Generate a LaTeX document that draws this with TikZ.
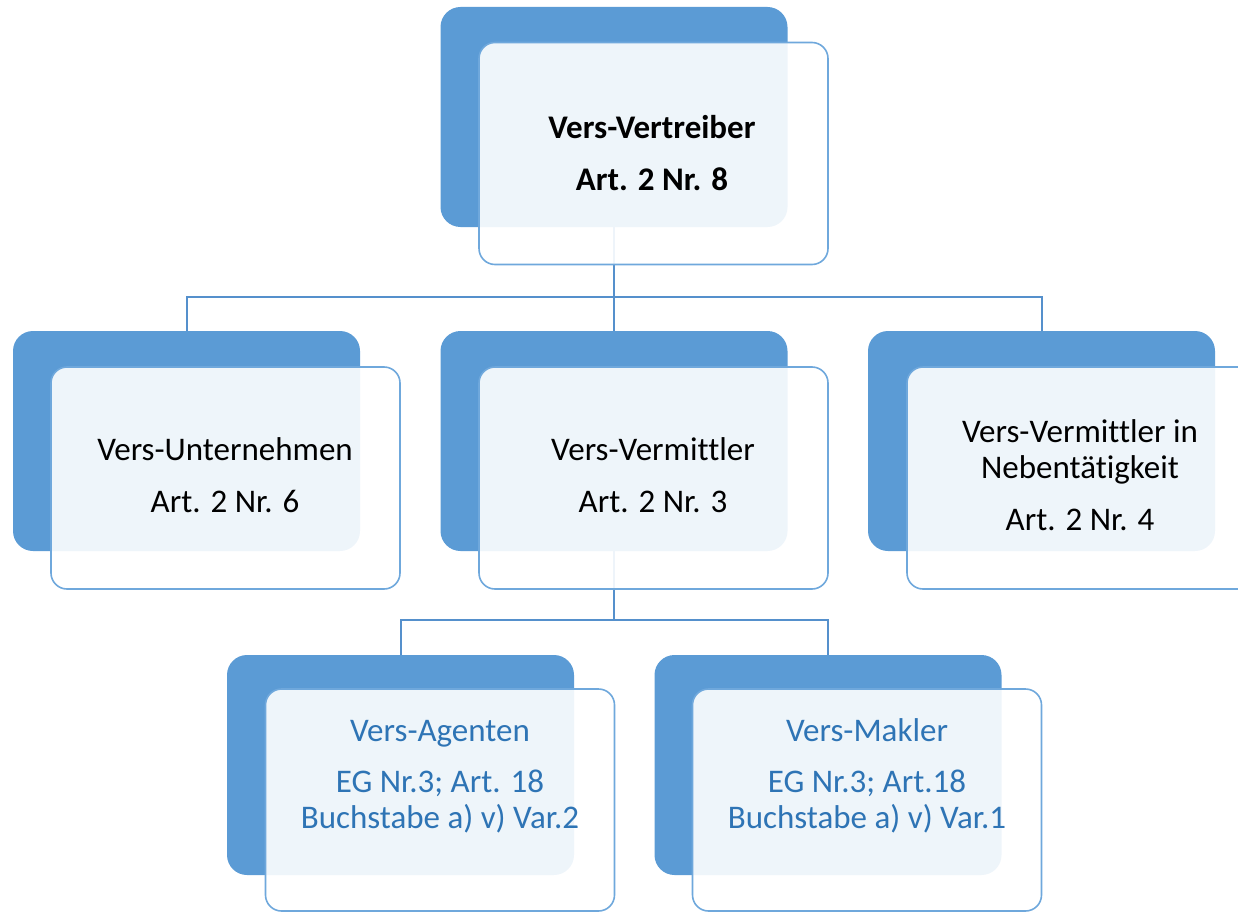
\documentclass[tikz,border=0pt]{standalone}
\usepackage{fontspec}
\setmainfont{Carlito}[Ligatures={NoCommon}]
\definecolor{boxblue}{HTML}{5B9BD5}
\definecolor{edgeblue}{HTML}{6FA8DC}
\definecolor{lineblue}{HTML}{5590CC}
\definecolor{txtblue}{HTML}{2E74B5}
\begin{document}
\begin{tikzpicture}[x=1pt,y=-1pt,
  backbox/.style={rectangle,rounded corners=20pt,fill=boxblue,draw=none,minimum width=347pt,minimum height=220pt,inner sep=0pt},
  frontbox/.style={rectangle,rounded corners=16pt,fill=white,fill opacity=0.9,draw=edgeblue,line width=1.6pt,minimum width=349pt,minimum height=222pt,inner sep=0pt},
  conn/.style={draw=lineblue,line width=2pt},
  lbl/.style={align=center,inner sep=0pt,anchor=base,font=\fontsize{33}{36}\selectfont},
  lblblue/.style={lbl,text=txtblue}]
\useasboundingbox (0,0) rectangle (1238,912);
% back boxes
\node[backbox] (b1) at (614,117) {};
\node[backbox] (b2) at (186.5,441) {};
\node[backbox] (b3) at (614,441) {};
\node[backbox] (b4) at (1041.5,441) {};
\node[backbox] (b5) at (400.5,765) {};
\node[backbox] (b6) at (828,765) {};
% connectors
\coordinate (j1) at (614,297);
\coordinate (j2) at (614,620);
\draw[conn] (b1.south) -- (j1);
\draw[conn] (j1) -| (b2.north);
\draw[conn] (j1) -- (b3.north);
\draw[conn] (j1) -| (b4.north);
\draw[conn] (b3.south) -- (j2);
\draw[conn] (j2) -| (b5.north);
\draw[conn] (j2) -| (b6.north);
% front boxes
\node[frontbox] (w1) at (653.5,153.5) {};
\node[frontbox] (w2) at (225.5,478) {};
\node[frontbox] (w3) at (653.5,478) {};
\node[frontbox] (w4) at (1081.5,478) {};
\node[frontbox] (w5) at (440,800) {};
\node[frontbox] (w6) at (867,800) {};
% texts (anchor base = baseline of the last line)
\node[lbl,font=\fontsize{33}{36}\selectfont\bfseries] (t1) at (652,190) {Vers-Vertreiber\\[16pt]Art. 2 Nr. 8};
\node[lbl] (t2) at (225,512) {Vers-Unternehmen\\[16pt]Art. 2 Nr. 6};
\node[lbl] (t3) at (653,512) {Vers-Vermittler\\[16pt]Art. 2 Nr. 3};
\node[lbl] (t4) at (1080,530) {Vers-Vermittler in\\Nebentätigkeit\\[16pt]Art. 2 Nr. 4};
\node[lblblue] (t5) at (440,828) {Vers-Agenten\\[15pt]EG Nr.3; Art. 18\\Buchstabe a) v) Var.2};
\node[lblblue] (t6) at (867,828) {Vers-Makler\\[15pt]EG Nr.3; Art.18\\Buchstabe a) v) Var.1};
\end{tikzpicture}
\end{document}
